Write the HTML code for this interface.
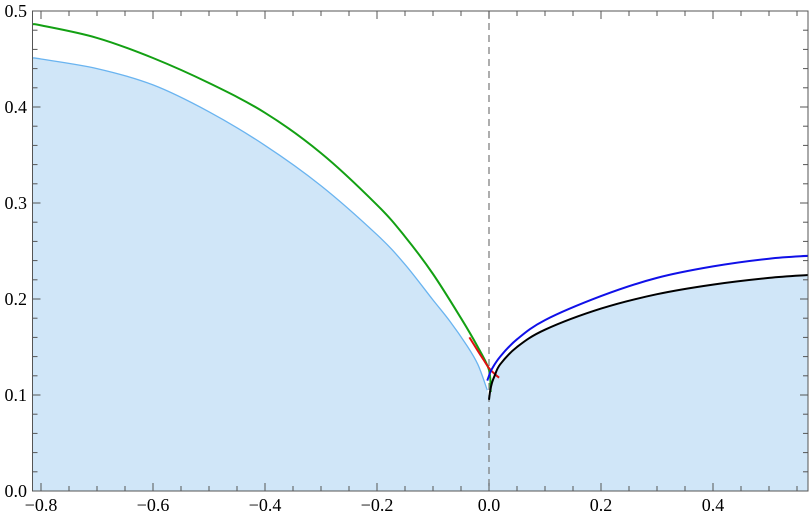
<!DOCTYPE html>
<html><head><meta charset="utf-8"><style>
body{margin:0;background:#fff}
svg{display:block}
text{font-family:"Liberation Serif",serif;font-size:18px;fill:#000}
</style></head><body>
<svg id="c" width="810" height="519"></svg>
<script>
const xTicks=[-0.8,-0.6,-0.4,-0.2,0.0,0.2,0.4];
const yTicks=[0.0,0.1,0.2,0.3,0.4,0.5];
const greenX=[-0.815,-0.8,-0.7,-0.6,-0.5,-0.4,-0.3,-0.2,-0.15,-0.1,-0.05,-0.02,0,0.003];
const greenY=[0.486,0.485,0.472,0.451,0.425,0.394,0.352,0.298,0.265,0.226,0.18,0.15,0.126,0.103];
const lblueX=[-0.815,-0.8,-0.7,-0.6,-0.5,-0.4,-0.3,-0.2,-0.15,-0.1,-0.07,-0.04,-0.02,-0.003];
const lblueY=[0.451,0.45,0.44,0.423,0.395,0.36,0.318,0.267,0.236,0.199,0.177,0.152,0.132,0.105];
const redX=[-0.035,-0.02,-0.01,0,0.01,0.018];
const redY=[0.16,0.146,0.137,0.128,0.122,0.118];
const blueX=[-0.003,0,0.005,0.02,0.05,0.1,0.2,0.3,0.4,0.5,0.57];
const blueY=[0.115,0.12,0.127,0.14,0.158,0.178,0.203,0.222,0.234,0.242,0.245];
const blackX=[0,0.002,0.005,0.01,0.02,0.05,0.1,0.2,0.3,0.4,0.5,0.57];
const blackY=[0.095,0.104,0.112,0.12,0.132,0.15,0.168,0.19,0.205,0.215,0.222,0.225];

const L=32.5,R=808,T=11,B=491;
const sx=v=>489+v*560, sy=v=>B-v*960;
const svg=document.getElementById('c');const NS='http://www.w3.org/2000/svg';
function mk(t,a,p){const e=document.createElementNS(NS,t);for(const k in a)e.setAttribute(k,a[k]);(p||svg).appendChild(e);return e;}
function smooth(xs,ys,start){const P=xs.map((x,i)=>[sx(x),sy(ys[i])]);let d=(start?'M':'L')+P[0][0].toFixed(1)+','+P[0][1].toFixed(1);
for(let i=0;i<P.length-1;i++){const p0=P[i-1]||P[i],p1=P[i],p2=P[i+1],p3=P[i+2]||P[i+1];
const c1=[p1[0]+(p2[0]-p0[0])/6,p1[1]+(p2[1]-p0[1])/6],c2=[p2[0]-(p3[0]-p1[0])/6,p2[1]-(p3[1]-p1[1])/6];
d+='C'+c1.map(v=>v.toFixed(1))+' '+c2.map(v=>v.toFixed(1))+' '+p2.map(v=>v.toFixed(1));}return d;}
const clip=mk('clipPath',{id:'cp'});mk('rect',{x:L,y:T,width:R-L,height:B-T},clip);
const g=mk('g',{'clip-path':'url(#cp)'});
let fd='M'+sx(-0.9)+','+B+' L'+sx(-0.9)+','+sy(lblueY[0])+' '+smooth(lblueX,lblueY,false)+' '+smooth(blackX,blackY,false)+' L'+sx(0.7)+','+sy(0.225)+' L'+sx(0.7)+','+B+'Z';
let f=mk('path',{d:fd,fill:'#d0e6f8'},g);

mk('line',{x1:sx(0),x2:sx(0),y1:T,y2:B,stroke:'#777','stroke-dasharray':'7,5','stroke-width':1.2},g);
const series=[[lblueX,lblueY,'#6ab4f0',1.3,'light-blue-curve'],[greenX,greenY,'#13a013',2,'green-curve'],[redX,redY,'#e01010',2,'red-curve'],[blueX,blueY,'#1010e8',2,'blue-curve'],[blackX,blackY,'#000',2,'black-curve']];
for(const s of series){const e=mk('path',{d:smooth(s[0],s[1],true),fill:'none',stroke:s[2],'stroke-width':s[3],'stroke-linejoin':'round'},g);

}
mk('rect',{x:L,y:T,width:R-L,height:B-T,fill:'none',stroke:'#555','stroke-width':1});
for(let v=-0.8;v<=0.57;v+=0.05){const x=sx(v);const maj=Math.abs(Math.round(v*5)-v*5)<1e-6;const l=maj?8:5;
mk('line',{x1:x,x2:x,y1:B,y2:B-l,stroke:'#555'});mk('line',{x1:x,x2:x,y1:T,y2:T+l,stroke:'#555'});}
for(let v=0;v<=0.5001;v+=0.02){const y=sy(v);const maj=Math.abs(Math.round(v*10)-v*10)<1e-6;const l=maj?8:5;
mk('line',{x1:L,x2:L+l,y1:y,y2:y,stroke:'#555'});mk('line',{x1:R,x2:R-l,y1:y,y2:y,stroke:'#555'});}
for(const v of xTicks){const t=mk('text',{x:sx(v),y:511,'text-anchor':'middle'});t.textContent=(v<0?'\u2212':'')+Math.abs(v).toFixed(1);
}
for(const v of yTicks){const t=mk('text',{x:27,y:sy(v)+6,'text-anchor':'end'});t.textContent=v.toFixed(1);
}
</script>
</body></html>
